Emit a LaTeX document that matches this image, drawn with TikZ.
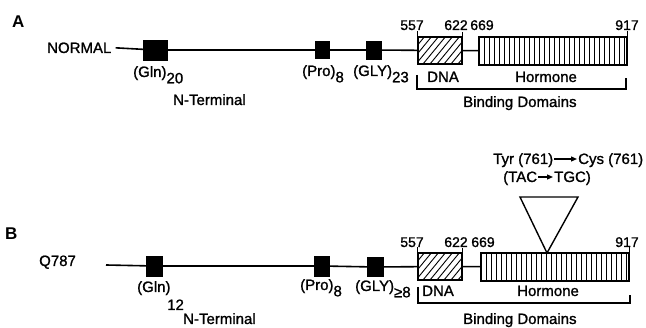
\documentclass[tikz,border=0pt]{standalone}
\usepackage{fontspec}
\setmainfont{Liberation Sans}
\newfontfamily\medfont{Liberation Sans}[FakeBold=1.2]
\usepackage{tikz}
\usetikzlibrary{arrows.meta}
\newcommand{\lo}[1]{\raisebox{-0.42em}{#1}}

\begin{document}
\begin{tikzpicture}[x=1pt, y=-1pt,
  lbl/.style={inner sep=0pt, font=\medfont\fontsize{15}{17}\selectfont},
  num/.style={inner sep=0pt, font=\medfont\fontsize{14}{16}\selectfont},
  panel/.style={inner sep=0pt, font=\fontsize{17}{19}\selectfont\bfseries},
  blk/.style={draw, fill=black, inner sep=0pt},
  dnabox/.style={draw, line width=1.3pt, inner sep=0pt, minimum width=44pt, minimum height=27pt,
              path picture={\foreach \k in {-30,-23,...,45}
                \draw[line width=0.9pt] ([xshift=\k pt]path picture bounding box.south west) -- ++(28pt,34pt);}},
  hormbox/.style={draw, line width=1.3pt, inner sep=0pt, minimum width=148pt, minimum height=28pt,
              path picture={\foreach \k in {5,10,...,145}
                \draw[line width=1pt] ([xshift=\k pt]path picture bounding box.south west) -- ([xshift=\k pt]path picture bounding box.north west);}},
  spine/.style={line width=1.6pt},
  brk/.style={line width=1.3pt},
  arr/.style={-{Triangle[length=6pt,width=5pt]}, line width=1.3pt},
]
\useasboundingbox (0,0) rectangle (646,328);

% panel A
\node[panel, anchor=base west] (labA) at (12,28) {A};
\node[lbl, anchor=base west] (normal) at (47,53) {NORMAL};
\node[blk, minimum width=24pt, minimum height=20pt] (glnA) at (155,50) {};
\node[blk, minimum width=14pt, minimum height=17pt] (proA) at (322,50) {};
\node[blk, minimum width=15pt, minimum height=18pt] (glyA) at (374,50) {};
\node[dnabox] (dnaA) at (440,50.5) {};
\node[hormbox] (hormA) at (553,51) {};
\draw[spine] ([xshift=4pt]normal.east) -- (glnA) -- (proA) -- (glyA) -- (dnaA) -- (hormA);
\draw[brk] (dnaA.north west) -- ++(0,-5);
\draw[brk] (dnaA.north east) -- ++(0,-4);
\draw[brk] (hormA.north east) -- ++(0,-5);
\node[num, anchor=base] (n557A) at (412,30) {557};
\node[num, anchor=base] (n622A) at (456,30) {622};
\node[num, anchor=base] (n669A) at (482,30) {669};
\node[num, anchor=base] (n917A) at (627,30) {917};
\node[lbl, anchor=base west] (glnlabA) at (133,77) {(Gln)\lo{20}};
\node[lbl, anchor=base west] (prolabA) at (302,76) {(Pro)\lo{8}};
\node[lbl, anchor=base west] (glylabA) at (353,76) {(GLY)\lo{23}};
\node[lbl, anchor=base west] (ntermA) at (173,105) {N-Terminal};
\node[lbl, anchor=base west] (dnalabA) at (427,82) {DNA};
\node[lbl, anchor=base west] (hormlabA) at (515,82) {Hormone};
\draw[brk] (417,75) -- (417,89) -- (626,89) -- (626,78);
\node[lbl, anchor=base west] (bindA) at (463,107) {Binding Domains};

% panel B
\node[panel, anchor=base west] (labB) at (5,240) {B};
\node[lbl, anchor=base west] (q787) at (39,266) {Q787};
\coordinate (startB) at (106,265);
\node[blk, minimum width=16pt, minimum height=20pt] (glnB) at (154,266) {};
\node[blk, minimum width=15pt, minimum height=20pt] (proB) at (322,266) {};
\node[blk, minimum width=16pt, minimum height=19pt] (glyB) at (375,267) {};
\node[dnabox] (dnaB) at (440,266.5) {};
\node[hormbox] (hormB) at (555,267) {};
\draw[spine] (startB) -- (glnB) -- (proB) -- (glyB) -- (dnaB) -- (hormB);
\draw[brk] (dnaB.north west) -- ++(0,-5);
\draw[brk] (dnaB.north east) -- ++(0,-4);
\draw[brk] (hormB.north east) -- ++(0,-6);
\node[num, anchor=base] (n557B) at (412,247) {557};
\node[num, anchor=base] (n622B) at (456,247) {622};
\node[num, anchor=base] (n669B) at (483,247) {669};
\node[num, anchor=base] (n917B) at (627,247) {917};
\node[lbl, anchor=base west] (glnlabB) at (137,292) {(Gln)};
\node[lbl, anchor=base west] (rep12) at (167,310) {12};
\node[lbl, anchor=base west] (ntermB) at (183,324) {N-Terminal};
\node[lbl, anchor=base west] (prolabB) at (300,290) {(Pro)\lo{8}};
\node[lbl, anchor=base west] (glylabB) at (355,291) {(GLY)\lo{≥8}};
\node[lbl, anchor=base west] (dnalabB) at (422,296) {DNA};
\node[lbl, anchor=base west] (hormlabB) at (517,296) {Hormone};
\draw[brk] (418,287) -- (418,303) -- (630,303) -- (630,295);
\node[lbl, anchor=base west] (bindB) at (463,324) {Binding Domains};

% mutation
\node[lbl, anchor=base west] (tyr) at (493,164) {Tyr (761)};
\node[lbl, anchor=base west] (cys) at (578,164) {Cys (761)};
\node[lbl, anchor=base west] (tac) at (503,182) {(TAC};
\node[lbl, anchor=base west] (tgc) at (554,182) {TGC)};
\draw[arr] ([shift={(1pt,5pt)}]tyr.base east) -- ([shift={(-1pt,5pt)}]cys.base west);
\draw[arr] ([shift={(1pt,5pt)}]tac.base east) -- ([shift={(-1pt,5pt)}]tgc.base west);
\coordinate (mut) at (547,253);
\draw[line width=1.4pt, line join=miter] (mut) -- (520,197) -- (578,197) -- cycle;
\end{tikzpicture}
\end{document}
